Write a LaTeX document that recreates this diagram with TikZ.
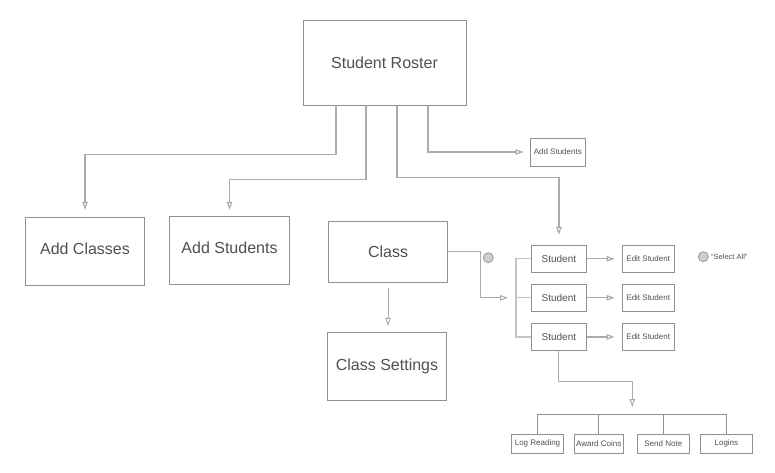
\documentclass[tikz,border=0pt]{standalone}
\usepackage{fontspec}
\setmainfont{Liberation Sans}
\usetikzlibrary{arrows.meta,calc}
\definecolor{boxgray}{HTML}{909090}
\definecolor{linegray}{HTML}{ABABAB}
\definecolor{lightline}{HTML}{C4C4C4}
\definecolor{txtgray}{HTML}{505050}
\definecolor{dotfill}{HTML}{CFCFCF}
\tikzset{
  bigbox/.style={draw=boxgray,line width=0.9pt,fill=white,text=txtgray,font=\fontsize{16}{18}\selectfont,inner sep=0pt},
  midbox/.style={draw=boxgray,line width=0.9pt,fill=white,text=txtgray,font=\fontsize{10}{12}\selectfont,inner sep=0pt,minimum width=55.7pt,minimum height=27pt},
  smallbox/.style={draw=boxgray,line width=0.9pt,fill=white,text=txtgray,font=\fontsize{8}{10}\selectfont,inner sep=0pt},
  conn/.style={draw=linegray,line width=1.2pt,-{Triangle[open,length=8pt,width=5.5pt]},shorten >=6pt},
  plain/.style={draw=lightline,line width=1.2pt},
  barline/.style={draw=boxgray,line width=0.9pt},
  dot/.style={circle,draw=boxgray,line width=0.7pt,fill=dotfill,minimum size=10pt,inner sep=0pt}
}
\begin{document}
\begin{tikzpicture}[x=1pt,y=-1pt]
\useasboundingbox (0,0) rectangle (775,473);
% big boxes
\node[bigbox,minimum width=163pt,minimum height=85pt] (roster) at (384.5,62.5) {Student Roster};
\node[bigbox,minimum width=119.4pt,minimum height=68pt,text depth=6pt] (addclasses) at (85,251.3) {Add Classes};
\node[bigbox,minimum width=119.4pt,minimum height=68pt,text depth=5pt] (addstudents) at (229.5,250.3) {Add Students};
\node[bigbox,minimum width=119.4pt,minimum height=61.7pt] (class) at (388,251.8) {Class};
\node[bigbox,minimum width=119.4pt,minimum height=67.7pt] (classset) at (387,366.2) {Class Settings};
% small add students
\node[smallbox,minimum width=55.7pt,minimum height=28pt] (addstud2) at (557.8,152) {Add Students};
% students
\node[midbox] (stud1) at (558.9,258.8) {Student};
\node[midbox] (stud2) at (558.9,297.8) {Student};
\node[midbox] (stud3) at (558.9,336.9) {Student};
% edit student
\node[smallbox,minimum width=52.3pt,minimum height=27.4pt] (edit1) at (648.2,258.8) {Edit Student};
\node[smallbox,minimum width=52.3pt,minimum height=27.7pt] (edit2) at (648.2,297.8) {Edit Student};
\node[smallbox,minimum width=52.3pt,minimum height=26.7pt] (edit3) at (648.2,336.9) {Edit Student};
% dots
\node[dot] (dot1) at (488.3,257.7) {};
\node[dot] (dot2) at (703.3,256.7) {};
\node[anchor=west,text=txtgray,font=\fontsize{7.5}{9}\selectfont,inner sep=0pt] (selall) at (711,256.7) {“Select All”};
% bottom boxes
\node[smallbox,minimum width=52.4pt,minimum height=19pt] (log) at (537.5,443.8) {Log Reading};
\node[smallbox,minimum width=49.3pt,minimum height=19pt] (award) at (598.7,443.8) {Award Coins};
\node[smallbox,minimum width=52pt,minimum height=19pt] (send) at (663.3,443.8) {Send Note};
\node[smallbox,minimum width=52.7pt,minimum height=19pt] (logins) at (726.4,443.8) {Logins};
% coordinates
\coordinate (br) at (516,297.8);
\coordinate (bar) at (632.3,414);
% roster connectors
\draw[conn,shorten >=7pt] ([xshift=-48.5pt]roster.south) -- ++(0,49) -| (addclasses.north);
\draw[conn,shorten >=6pt] ([xshift=-18.5pt]roster.south) -- ++(0,73.7) -| (addstudents.north);
\draw[conn,shorten >=6pt] ([xshift=43.5pt]roster.south) |- (addstud2.west);
\draw[conn,shorten >=10pt] ([xshift=12.5pt]roster.south) -- ++(0,72) -| (stud1.north);
% class
\draw[conn,shorten <=5pt,shorten >=6pt,line width=0.9pt] (class.south) -- (class.south |- classset.north);
\draw[conn,shorten >=8pt,line width=1pt] (class.east) -- ++(32,0) |- (br);
% bracket
\draw[plain] (stud1.west) -| (br) |- (stud3.west);
\draw[plain] (br) -- (stud2.west);
% student -> edit
\draw[conn,shorten >=7pt] (stud1.east) -- (edit1.west);
\draw[conn,shorten >=7pt] (stud2.east) -- (edit2.west);
\draw[conn,shorten >=7pt] (stud3.east) -- (edit3.west);
% student 3 -> actions
\draw[conn,shorten >=7pt,line width=1pt] (stud3.south) -- ++(0,31) -| (bar);
\draw[barline] (log.north) -- (log.north |- bar) -- (logins.north |- bar) -- (logins.north);
\draw[barline] (award.north) -- (award.north |- bar);
\draw[barline] (send.north) -- (send.north |- bar);
\end{tikzpicture}
\end{document}
